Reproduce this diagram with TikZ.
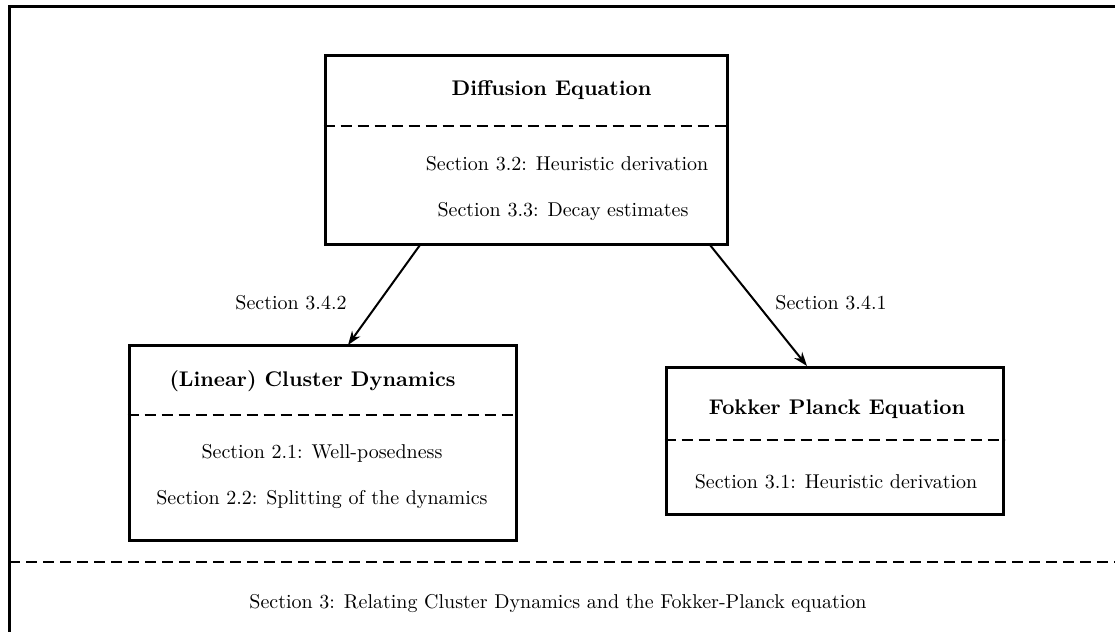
\documentclass[tikz,border=0pt]{standalone}
\usetikzlibrary{arrows.meta}
\begin{document}
\begin{tikzpicture}[x=0.5pt,y=-0.5pt,
  frame/.style={draw,line width=1.5pt,inner sep=0pt},
  divider/.style={line width=1.3pt,dash pattern=on 5.5pt off 3pt},
  txt/.style={inner sep=0pt,font=\normalsize},
  ttl/.style={inner sep=0pt,font=\fontsize{10.6}{12}\selectfont\bfseries},
  arr/.style={line width=1pt,-{Stealth[length=7pt,width=5pt]}}]
\useasboundingbox (0,0) rectangle (1115,632);
% outer frame (top and left only visible)
\draw[line width=1.5pt] (9,660) -- (9,6) -- (1130,6);
\coordinate (dl) at (9,562);
\coordinate (dr) at (1130,562);
\draw[divider] (dl) -- (dr);
\node[txt] (bottom) at (558,604) {Section 3: Relating Cluster Dynamics and the Fokker-Planck equation};
% Diffusion box
\node[frame,minimum width=201pt,minimum height=94.5pt] (diff) at (526,149.5) {};
\draw[divider] (diff.west |- 0,126) -- (diff.east |- 0,126);
\node[ttl] (difft) at (551.5,90) {Diffusion Equation};
\node[txt] (diff1) at (567,164) {Section 3.2: Heuristic derivation};
\node[txt] (diff2) at (563,211) {Section 3.3: Decay estimates};
% Cluster box
\node[frame,minimum width=193.5pt,minimum height=97.5pt] (clu) at (322.5,442.5) {};
\draw[divider] (clu.west |- 0,415) -- (clu.east |- 0,415);
\node[ttl] (clut) at (312.5,381) {(Linear) Cluster Dynamics};
\node[txt] (clu1) at (322,453) {Section 2.1: Well-posedness};
\node[txt] (clu2) at (322,500) {Section 2.2: Splitting of the dynamics};
% Fokker box
\node[frame,minimum width=168.5pt,minimum height=73.5pt] (fok) at (834.5,440.5) {};
\draw[divider] (fok.west |- 0,440) -- (fok.east |- 0,440);
\node[ttl] (fokt) at (837,409) {Fokker Planck Equation};
\node[txt] (fok1) at (836,482) {Section 3.1: Heuristic derivation};
% arrows
\coordinate (a1s) at (420,245);
\coordinate (a1e) at (348,345);
\coordinate (a2s) at (710,245);
\coordinate (a2e) at (807,366);
\draw[arr] (a1s) -- (a1e);
\draw[arr] (a2s) -- (a2e);
\node[txt] (l1) at (291,303) {Section 3.4.2};
\node[txt] (l2) at (831,303) {Section 3.4.1};
\end{tikzpicture}
\end{document}
